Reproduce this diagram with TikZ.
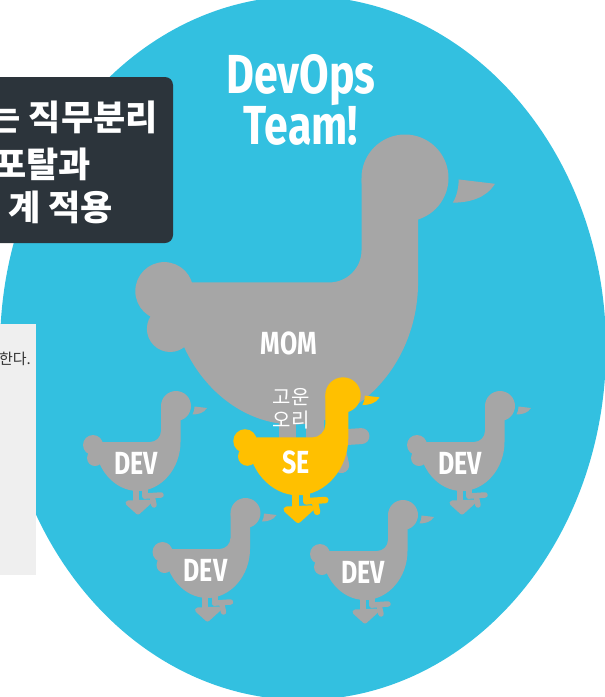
\documentclass[tikz,border=0pt]{standalone}
\usepackage{fontspec}
\usepackage{tikz}
\newfontfamily\teamfont[FakeStretch=0.78]{Fira Sans}
\newfontfamily\krfont{Noto Sans CJK KR}
\definecolor{devblue}{HTML}{33C0E0}
\definecolor{duckgray}{HTML}{A6A6A6}
\definecolor{seyellow}{HTML}{FFC000}
\definecolor{boxdark}{HTML}{2C343B}
\definecolor{sidegray}{HTML}{EFEFEF}
\tikzset{
  titletext/.style = {text=white, inner sep=0pt, align=center, font=\teamfont\bfseries\fontsize{55}{48}\selectfont},
  ducklabel/.style = {text=white, inner sep=0pt, font=\teamfont\bfseries\fontsize{32}{32}\selectfont},
  boxtext/.style   = {text=white, inner sep=0pt, font=\krfont\bfseries\fontsize{35}{35}\selectfont},
  sidetext/.style  = {text=black!80, inner sep=0pt, font=\krfont\fontsize{15}{15}\selectfont},
  nametext/.style  = {text=white, inner sep=0pt, align=center, font=\krfont\fontsize{20}{23}\selectfont},
}
% duck: #1 head centre, #2 scale, #3 colour, #4 node name, #5 label
\newcommand{\drawduck}[5]{%
  \begin{scope}[shift={#1}, scale=#2]
    \fill[#3] (0,0) circle[radius=15];
    \fill[#3] (4.5,0) -- (-15,0) -- (-15,25) .. controls (-15,31) and (-20,36) .. (-26,36)
      -- (-81,36) .. controls (-81,62.5) and (-61.6,85) .. (-38.25,85)
      .. controls (-14.6,85) and (4.5,62.5) .. (4.5,36) -- cycle;
    \fill[#3] (-83,39) circle[radius=10] (-81,52) circle[radius=8];
    % beak
    \fill[#3] (18.5,0.5) -- (31,2) .. controls (28,7) and (22,8.5) .. (16.5,8.5)
      .. controls (18,6) and (18.5,3) .. (18.5,0.5) -- cycle;
    % legs and feet
    \draw[#3, line width=6*#2, line cap=round] (-40.5,80) -- (-40.5,96) (-31,78) -- (-31,90);
    \draw[#3, fill=#3, line width=5*#2, line join=round] (-48,97) -- (-27,96) -- (-38,106) -- cycle;
    \draw[#3, line width=5.5*#2, line cap=round] (-31,90) -- (-15,89) (-24,90) -- (-22,99);
    \node[ducklabel] (#4) at (-40,57) {#5};
  \end{scope}}

\begin{document}
\begin{tikzpicture}[x=1pt, y=-1pt]
  \useasboundingbox (0,0) rectangle (605,697);
  \fill[devblue] (303,348) ellipse[x radius=303, y radius=352];

  % side panels
  \fill[sidegray] (-5,324) rectangle (36,575);
  \node[sidetext, anchor=base east] (side) at (31,364) {한다.};
  \fill[boxdark, rounded corners=8] (-20,77) rectangle (173,243);
  \node[boxtext, anchor=base east] (rowA) at (158,130) {는 직무분리};
  \node[boxtext, anchor=base east] (rowB) at (91,177) {포탈과};
  \node[boxtext, anchor=base east] (rowC) at (113,220) {계 적용};

  \node[titletext] (title) at (301,100) {DevOps\\Team!};

  % the family
  \drawduck{(405,178)}{2.9}{duckgray}{mom}{MOM}
  \drawduck{(176,406)}{1}{duckgray}{devA}{DEV}
  \drawduck{(500,406)}{1}{duckgray}{devB}{DEV}
  \drawduck{(245.5,513)}{1}{duckgray}{devC}{DEV}
  \drawduck{(403,515)}{1}{duckgray}{devD}{DEV}
  \drawduck{(343,395)}{1.18}{seyellow}{se}{SE}
  \node[nametext] (pretty) at (291,408.5) {고운\\오리};
\end{tikzpicture}
\end{document}
